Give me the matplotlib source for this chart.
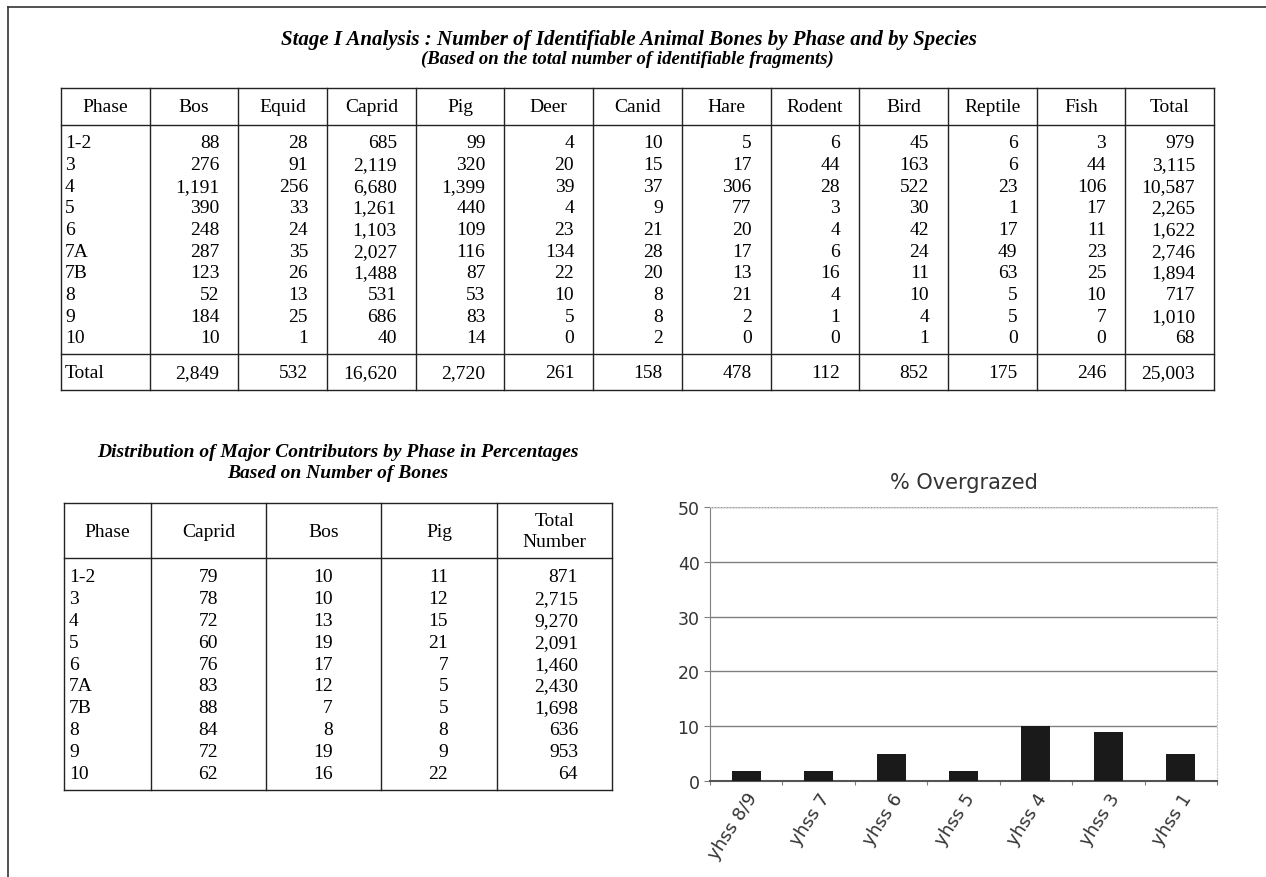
import numpy as np
import matplotlib.pyplot as plt

# Table 1: identifiable bones by phase and species
phases = ['1-2', '3', '4', '5', '6', '7A', '7B', '8', '9', '10']
species = ['Bos', 'Equid', 'Caprid', 'Pig', 'Deer', 'Canid', 'Hare',
           'Rodent', 'Bird', 'Reptile', 'Fish']
bones = [
    [88, 28, 685, 99, 4, 10, 5, 6, 45, 6, 3],
    [276, 91, 2119, 320, 20, 15, 17, 44, 163, 6, 44],
    [1191, 256, 6680, 1399, 39, 37, 306, 28, 522, 23, 106],
    [390, 33, 1261, 440, 4, 9, 77, 3, 30, 1, 17],
    [248, 24, 1103, 109, 23, 21, 20, 4, 42, 17, 11],
    [287, 35, 2027, 116, 134, 28, 17, 6, 24, 49, 23],
    [123, 26, 1488, 87, 22, 20, 13, 16, 11, 63, 25],
    [52, 13, 531, 53, 10, 8, 21, 4, 10, 5, 10],
    [184, 25, 686, 83, 5, 8, 2, 1, 4, 5, 7],
    [10, 1, 40, 14, 0, 2, 0, 0, 1, 0, 0],
]
row_totals = [979, 3115, 10587, 2265, 1622, 2746, 1894, 717, 1010, 68]
species_totals = [2849, 532, 16620, 2720, 261, 158, 478, 112, 852, 175, 246]
grand_total = 25003

# Table 2: major contributors in percent
caprid_pct = [79, 78, 72, 60, 76, 83, 88, 84, 72, 62]
bos_pct = [10, 10, 13, 19, 17, 12, 7, 8, 19, 16]
pig_pct = [11, 12, 15, 21, 7, 5, 5, 8, 9, 22]
total_number = [871, 2715, 9270, 2091, 1460, 2430, 1698, 636, 953, 64]

# Bar chart
sites = ['yhss 8/9', 'yhss 7', 'yhss 6', 'yhss 5', 'yhss 4', 'yhss 3', 'yhss 1']
overgrazed = [1.9, 1.9, 5.0, 1.9, 10.1, 8.9, 5.0]

W, H = 1266, 878
serif = 'Liberation Serif'
line_c = '#222222'
fs = 14
base = 6.4  # baseline offset below a row's centre line

fig = plt.figure(figsize=(W / 100, H / 100), dpi=100)
bg = fig.add_axes([0, 0, 1, 1])
bg.set_xlim(0, W)
bg.set_ylim(H, 0)
bg.axis('off')

# page frame
bg.plot([8, W], [8, 8], color='#333333', lw=1.2)
bg.plot([8, 8], [8, H], color='#333333', lw=1.2)


def fmt(v):
    return f'{v:,}'


def cell(x, y, s, ha):
    bg.text(x, y + base, s, ha=ha, va='baseline', fontsize=fs, family=serif)


# ---- table 1 ----
bg.text(629, 40, 'Stage I Analysis : Number of Identifiable Animal Bones by Phase and by Species',
        ha='center', va='center', fontsize=15, family=serif, weight='bold', style='italic')
bg.text(627, 59, '(Based on the total number of identifiable fragments)',
        ha='center', va='center', fontsize=13.5, family=serif, weight='bold', style='italic')

x_edges = np.linspace(61, 1214, len(species) + 3)
t_top, t_head, t_body, t_bot = 89, 126, 355, 391
for xe in x_edges:
    bg.plot([xe, xe], [t_top, t_bot], color=line_c, lw=1)
for ye in (t_top, t_head, t_body, t_bot):
    bg.plot([x_edges[0], x_edges[-1]], [ye, ye], color=line_c, lw=1)

headers = ['Phase'] + species + ['Total']
for j, h in enumerate(headers):
    cell((x_edges[j] + x_edges[j + 1]) / 2, 106, h, 'center')

row_h = 21.67
for i, ph in enumerate(phases):
    y = 142 + i * row_h
    cell(x_edges[0] + 4, y, ph, 'left')
    vals = bones[i] + [row_totals[i]]
    for j, v in enumerate(vals):
        cell(x_edges[j + 2] - 19, y, fmt(v), 'right')

cell(x_edges[0] + 4, 372, 'Total', 'left')
for j, v in enumerate(species_totals + [grand_total]):
    cell(x_edges[j + 2] - 19, 372, fmt(v), 'right')

# ---- table 2 ----
bg.text(338, 453, 'Distribution of Major Contributors by Phase in Percentages',
        ha='center', va='center', fontsize=14, family=serif, weight='bold', style='italic')
bg.text(338, 474, 'Based on Number of Bones',
        ha='center', va='center', fontsize=14, family=serif, weight='bold', style='italic')

x2 = [64, 151, 266, 381, 497, 612]
s_top, s_head, s_bot = 504, 559, 791
for xe in x2:
    bg.plot([xe, xe], [s_top, s_bot], color=line_c, lw=1)
for ye in (s_top, s_head, s_bot):
    bg.plot([x2[0], x2[-1]], [ye, ye], color=line_c, lw=1)

for j, h in enumerate(['Phase', 'Caprid', 'Bos', 'Pig']):
    cell((x2[j] + x2[j + 1]) / 2, 531, h, 'center')
cell((x2[4] + x2[5]) / 2, 520, 'Total', 'center')
cell((x2[4] + x2[5]) / 2, 541, 'Number', 'center')

cols2 = [caprid_pct, bos_pct, pig_pct, total_number]
right2 = [218, 333, 448, 578]
for i, ph in enumerate(phases):
    y = 576 + i * 21.8
    cell(x2[0] + 5, y, ph, 'left')
    for col, xr in zip(cols2, right2):
        cell(xr, y, fmt(col[i]), 'right')

# ---- bar chart ----
ax = fig.add_axes([710 / W, 1 - 782 / H, (1217 - 710) / W, (782 - 508) / H])
pos = np.arange(len(sites))
ax.bar(pos, overgrazed, width=0.4, color='#1a1a1a', zorder=3)
ax.set_xlim(-0.5, len(sites) - 0.5)
ax.set_ylim(0, 50)
ax.set_yticks(range(0, 51, 10))
ax.yaxis.grid(True, color='#808080', lw=1, zorder=0)
ax.tick_params(axis='y', direction='out', length=4, color='#808080',
               labelsize=12.5, labelcolor='#333333')
ax.set_xticks(np.arange(-0.5, len(sites)), [])
ax.set_xticks(pos, sites, minor=True)
ax.tick_params(axis='x', which='major', direction='out', length=3, color='#808080')
ax.tick_params(axis='x', which='minor', length=0, pad=6, labelsize=13, labelcolor='#333333')
for lab in ax.get_xticklabels(minor=True):
    lab.set_rotation(57)
    lab.set_ha('right')
    lab.set_rotation_mode('anchor')
ax.spines['left'].set_color('#808080')
ax.spines['bottom'].set_color('#555555')
ax.spines['bottom'].set_linewidth(1.5)
for s in ('top', 'right'):
    ax.spines[s].set_color('#cccccc')
    ax.spines[s].set_linestyle(':')
ax.set_title('% Overgrazed', fontsize=15, color='#333333', pad=14)

fig.savefig('out.png', dpi=100)
